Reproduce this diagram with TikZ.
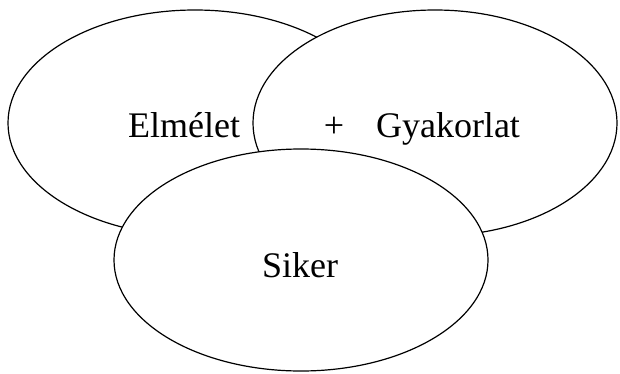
\documentclass[tikz,border=0pt]{standalone}
\usepackage{fontspec}
\setmainfont{Liberation Serif}
\usetikzlibrary{shapes.geometric}
\begin{document}
\begin{tikzpicture}[x=1pt,y=1pt,
  oval/.style={ellipse,draw=black,line width=1.2pt,fill=white,inner sep=0pt},
  lbl/.style={anchor=base,inner sep=0pt,font=\fontsize{36}{40}\selectfont}]
\useasboundingbox (0,0) rectangle (620,373);
\node[oval,minimum width=374pt,minimum height=226pt] (elm) at (195,250) {};
\node[lbl] (elmt) at (184,236) {Elmélet};
\node[oval,minimum width=364pt,minimum height=226pt] (gyak) at (435,250) {};
\node[lbl] (plus) at (334,236) {+};
\node[lbl] (gyakt) at (448,236) {Gyakorlat};
\node[oval,minimum width=374pt,minimum height=222pt] (sik) at (301,113) {};
\node[lbl] (sikt) at (300,96) {Siker};
\end{tikzpicture}
\end{document}
